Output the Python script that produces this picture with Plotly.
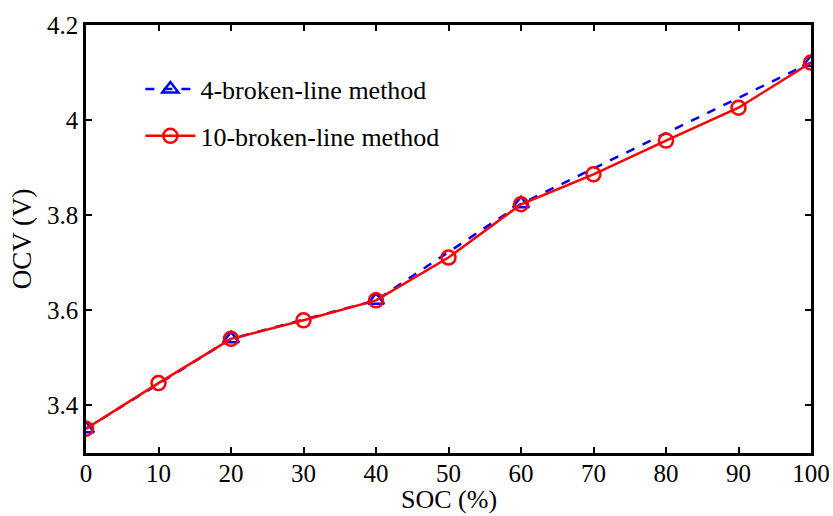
import plotly.graph_objects as go

soc4 = [0, 20, 40, 60, 100]
ocv4 = [3.351, 3.540, 3.621, 3.824, 4.121]
soc10 = [0, 10, 20, 30, 40, 50, 60, 70, 80, 90, 100]
ocv10 = [3.351, 3.447, 3.540, 3.579, 3.621, 3.711, 3.823, 3.886, 3.957, 4.026, 4.121]
x_ticks = [0, 10, 20, 30, 40, 50, 60, 70, 80, 90, 100]
y_ticks = [3.4, 3.6, 3.8, 4.0, 4.2]
y_labels = ["3.4", "3.6", "3.8", "4", "4.2"]

font = "Liberation Serif, Times New Roman, serif"

fig = go.Figure()
fig.add_trace(go.Scatter(
    x=soc4, y=ocv4, mode="lines+markers", name="4-broken-line method",
    legendgroup="a",
    line=dict(color="#0000ff", width=2.5, dash="dash"),
    marker=dict(symbol="triangle-up-open", size=14, color="#0000ff", line=dict(width=2.5)),
))
fig.add_trace(go.Scatter(
    x=soc10, y=ocv10, mode="lines+markers", name="10-broken-line method",
    legendgroup="b",
    line=dict(color="#ff0000", width=2.5),
    marker=dict(symbol="circle-open", size=14, color="#ff0000", line=dict(width=2.5)),
))

axis_common = dict(
    showline=True, linecolor="black", linewidth=2.5, mirror="ticks",
    ticks="inside", ticklen=6, tickwidth=2, tickcolor="black",
    showgrid=False, zeroline=False, automargin=False,
    tickfont=dict(family=font, size=25, color="black"),
)
fig.update_xaxes(range=[0, 100], tickvals=x_ticks, ticklabelstandoff=-4, **axis_common)
fig.update_yaxes(range=[3.3, 4.2], tickvals=y_ticks, ticktext=y_labels,
                 title=dict(text="OCV (V)", font=dict(family=font, size=27, color="black"), standoff=8),
                 **axis_common)

fig.add_annotation(text="SOC (%)", xref="paper", yref="paper", x=0.5, y=0,
                   xanchor="center", yanchor="bottom", yshift=-62, showarrow=False,
                   borderpad=0,
                   font=dict(family=font, size=26, color="black"))

fig.update_layout(
    width=833, height=516,
    margin=dict(l=86, r=22, t=25, b=63),
    paper_bgcolor="white", plot_bgcolor="white",
    showlegend=True,
    legend=dict(x=0.075, y=0.905, xanchor="left", yanchor="top",
                bgcolor="rgba(0,0,0,0)", borderwidth=0,
                font=dict(family=font, size=26, color="black"),
                traceorder="grouped", tracegroupgap=10, itemwidth=50),
)

fig.write_html("out.html")
